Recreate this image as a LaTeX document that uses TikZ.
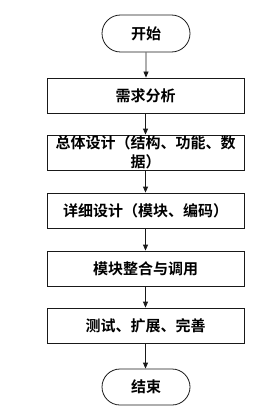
\documentclass[tikz,border=0pt]{standalone}
\usepackage{fontspec}
\newfontfamily\cjk{Noto Sans CJK SC}[BoldFont={* Bold}]
\usetikzlibrary{arrows.meta,shapes.misc}
\begin{document}
\begin{tikzpicture}[x=1pt,y=-1pt,
  box/.style={draw=black!90, line width=0.8pt, minimum width=197pt, minimum height=35pt, inner sep=0pt, align=center, font=\cjk\fontsize{15}{19}\selectfont\bfseries},
  term/.style={draw=black!90, line width=0.8pt, rounded rectangle, minimum width=88pt, minimum height=37pt, inner sep=0pt, font=\cjk\fontsize{15}{19}\selectfont\bfseries},
  arr/.style={draw=black!90, line width=0.8pt, -{Triangle[length=6pt,width=5pt]}}]
\useasboundingbox (0,0) rectangle (273,417);
\node[term] (s) at (146,33.5) {开始};
\node[box] (b1) at (145.5,95.5) {需求分析};
\node[box] (b2) at (145.5,152.5) {总体设计（结构、功能、数\\据）};
\node[box] (b3) at (145.5,210.5) {详细设计（模块、编码）};
\node[box] (b4) at (145.5,268.5) {模块整合与调用};
\node[box] (b5) at (145.5,325.5) {测试、扩展、完善};
\node[term, minimum height=36pt] (e) at (146,387) {结束};
\draw[arr] (s) -- (s|-b1.north);
\draw[arr] (b1) -- (b1|-b2.north);
\draw[arr] (b2) -- (b2|-b3.north);
\draw[arr] (b3) -- (b3|-b4.north);
\draw[arr] (b4) -- (b4|-b5.north);
\draw[arr] (b5) -- (b5|-e.north);
\end{tikzpicture}
\end{document}
